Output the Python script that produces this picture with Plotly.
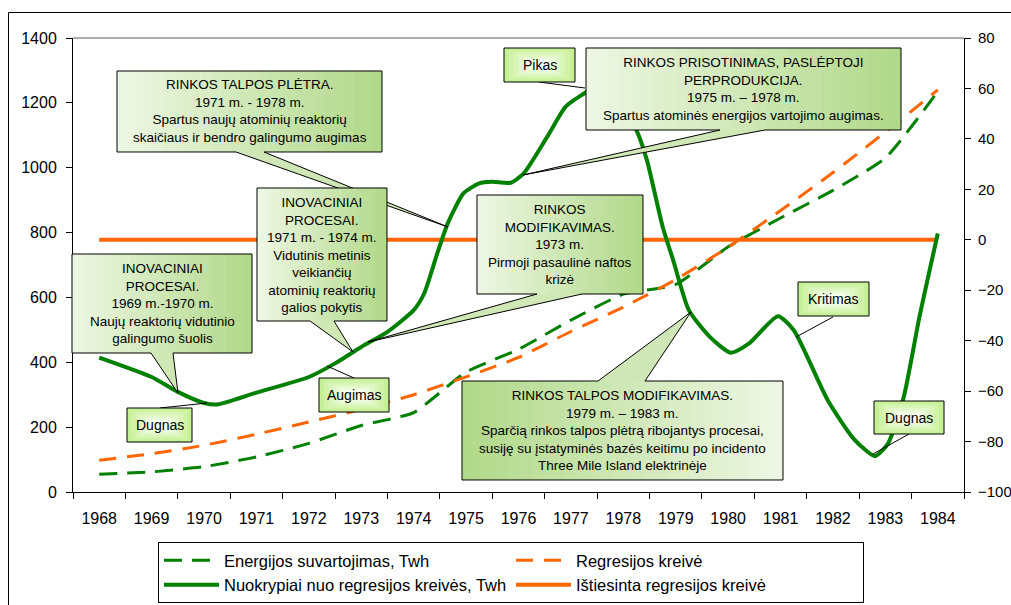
import plotly.graph_objects as go

years = list(range(1968, 1985))
year_labels = [str(y) for y in years]

# Energijos suvartojimas, Twh (kairė ašis)
energy_twh = [55, 62, 78, 108, 150, 205, 245, 370, 440, 530, 610, 640, 756, 845, 930, 1030, 1235]
# Regresijos kreivė (kairė ašis)
regression = [98, 118, 144, 178, 216, 255, 300, 355, 415, 495, 570, 655, 755, 868, 985, 1110, 1240]
# Ištiesinta regresijos kreivė (dešinė ašis)
straightened = [0, 0, 0, 0, 0, 0, 0, 0, 0, 0, 0, 0, 0, 0, 0, 0, 0]

# Nuokrypiai nuo regresijos kreivės (dešinė ašis)
deviation_x = [1968.0, 1969.0, 1969.5, 1970.0, 1970.25, 1971.0, 1972.0, 1972.5, 1973.0,
               1973.5, 1974.0, 1974.2, 1974.45, 1974.65, 1974.95, 1975.25, 1975.5,
               1975.85, 1976.1, 1976.55, 1976.9, 1977.25, 1977.55, 1977.9, 1978.25,
               1978.45, 1978.75, 1978.95, 1979.25, 1979.65, 1980.05, 1980.4, 1980.95,
               1981.25, 1981.9, 1982.4, 1982.8, 1983.05, 1983.35, 1983.65, 1984.0]
deviation = [-46.7, -54.4, -60.3, -64.7, -65.3, -60.6, -54.4, -49.0, -42.5,
             -36.5, -27.9, -21.3, -5.4, 6.5, 18.4, 22.4, 23.0,
             22.6, 26.3, 40.9, 52.8, 58.0, 62.0, 56.0, 43.5,
             31.6, 5.2, -8.0, -27.9, -38.5, -44.8, -41.1, -30.3,
             -35.8, -63.6, -79.0, -85.8, -80.8, -62.3, -30.6, 2.5]

GREEN = "#008000"
ORANGE = "#ff6600"
FONT = "Liberation Sans, Arial, sans-serif"

FW, FH = 1011, 605
# braižymo sritis pikseliais
L, R, T, B = 73, 964, 38, 492


def px(x):
    return (x - L) / (R - L)


def py(y):
    return (B - y) / (B - T)


def mix(c1, c2, t):
    return "rgb(%d,%d,%d)" % tuple(round(a + (b - a) * t) for a, b in zip(c1, c2))


shapes = []
annotations = []

LIGHT = (238, 247, 228)
DARK = (176, 216, 136)


def callout(box, base, tip, text, edge="bottom", reverse=False, strips=28):
    x0, y0, x1, y1 = box
    c_left, c_right = (DARK, LIGHT) if reverse else (LIGHT, DARK)
    ey = y1 if edge == "bottom" else y0
    tmid = ((base[0] + base[1]) / 2 - x0) / (x1 - x0)
    tri = "M %f,%f L %f,%f L %f,%f Z" % (px(base[0]), py(ey), px(tip[0]), py(tip[1]),
                                          px(base[1]), py(ey))
    shapes.append(dict(type="path", path=tri, xref="paper", yref="paper", layer="above",
                       fillcolor=mix(c_left, c_right, tmid), line=dict(width=0)))
    w = (x1 - x0) / strips
    for i in range(strips):
        sx0 = x0 + i * w
        sx1 = min(x1, sx0 + w + 0.8)
        shapes.append(dict(type="rect", xref="paper", yref="paper", layer="above",
                           x0=px(sx0), x1=px(sx1), y0=py(y0), y1=py(y1),
                           fillcolor=mix(c_left, c_right, (i + 0.5) / strips),
                           line=dict(width=0)))
    if edge == "bottom":
        pts = [(x0, y0), (x1, y0), (x1, y1), (base[1], y1), tip, (base[0], y1), (x0, y1)]
    else:
        pts = [(x0, y0), (base[0], y0), tip, (base[1], y0), (x1, y0), (x1, y1), (x0, y1)]
    path = "M " + " L ".join("%f,%f" % (px(a), py(b)) for a, b in pts) + " Z"
    shapes.append(dict(type="path", path=path, xref="paper", yref="paper", layer="above",
                       line=dict(color="black", width=1)))
    annotations.append(dict(x=px((x0 + x1) / 2), y=py((y0 + y1) / 2), xref="paper",
                            yref="paper", text="<br>".join(text), showarrow=False,
                            font=dict(family=FONT, size=13.5, color="black"),
                            align="center", xanchor="center", yanchor="middle"))


EDGE = (198, 240, 150)
CENTER = (246, 254, 236)


def label(box, line_from, line_to, text):
    shapes.append(dict(type="line", xref="paper", yref="paper", layer="above",
                       x0=px(line_from[0]), y0=py(line_from[1]),
                       x1=px(line_to[0]), y1=py(line_to[1]),
                       line=dict(color="black", width=1)))
    x0, y0, x1, y1 = box
    steps = 6
    for k in range(steps):
        dx = (x1 - x0) * 0.42 * k / steps
        dy = (y1 - y0) * 0.42 * k / steps
        shapes.append(dict(type="rect", xref="paper", yref="paper", layer="above",
                           x0=px(x0 + dx), x1=px(x1 - dx), y0=py(y0 + dy), y1=py(y1 - dy),
                           fillcolor=mix(EDGE, CENTER, k / (steps - 1)),
                           line=dict(width=0)))
    shapes.append(dict(type="rect", xref="paper", yref="paper", layer="above",
                       x0=px(x0), x1=px(x1), y0=py(y0), y1=py(y1),
                       line=dict(color="black", width=1)))
    annotations.append(dict(x=px((x0 + x1) / 2), y=py((y0 + y1) / 2), xref="paper",
                            yref="paper", text=text, showarrow=False,
                            font=dict(family=FONT, size=14, color="black"),
                            xanchor="center", yanchor="middle"))


fig = go.Figure()

fig.add_trace(go.Scatter(
    x=years, y=energy_twh, mode="lines", name="Energijos suvartojimas, Twh",
    line=dict(color=GREEN, width=3, dash="18px,10px", shape="spline", smoothing=0.5),
    legendrank=1,
))
fig.add_trace(go.Scatter(
    x=years, y=regression, mode="lines", name="Regresijos kreivė",
    line=dict(color=ORANGE, width=3, dash="17px,11px", shape="spline", smoothing=0.5),
    legendrank=2,
))
fig.add_trace(go.Scatter(
    x=years, y=straightened, mode="lines", name="Ištiesinta regresijos kreivė",
    line=dict(color=ORANGE, width=4), yaxis="y2", legendrank=4,
))
fig.add_trace(go.Scatter(
    x=deviation_x, y=deviation, mode="lines", name="Nuokrypiai nuo regresijos kreivės, Twh",
    line=dict(color=GREEN, width=4, shape="spline", smoothing=0.6), yaxis="y2",
    legendrank=3,
))

# rėmelis ir viršutinė linija
shapes.append(dict(type="rect", xref="paper", yref="paper", layer="below",
                   x0=px(8.5), x1=px(1030), y0=py(12.5), y1=py(630),
                   line=dict(color="black", width=1)))
shapes.append(dict(type="line", xref="paper", yref="paper", layer="below",
                   x0=0, x1=1, y0=1, y1=1, line=dict(color="#909090", width=1.5)))

label((504, 48, 575, 82), (539, 82), (585, 88), "Pikas")
label((127, 408, 192, 442), (160, 408), (207, 403), "Dugnas")
label((319, 378, 389, 412), (354, 378), (327, 366), "Augimas")
label((798, 282, 869, 316), (833, 317), (796, 337), "Kritimas")
label((874, 401, 944, 434), (909, 434), (873, 454), "Dugnas")

callout((117, 71, 382, 152), (236, 264), (448, 227),
        ["RINKOS TALPOS PLĖTRA.", "1971 m. - 1978 m.", "Spartus naujų atominių reaktorių",
         "skaičiaus ir bendro galingumo augimas"])
callout((257, 188, 387, 321), (310, 334), (353, 352),
        ["INOVACINIAI", "PROCESAI.", "1971 m. - 1974 m.", "Vidutinis metinis", "veikiančių",
         "atominių reaktorių", "galios pokytis"])
callout((477, 195, 643, 294), (537, 582), (368, 342),
        ["RINKOS", "MODIFIKAVIMAS.", "1973 m.", "Pirmoji pasaulinė naftos", "krizė"])
callout((586, 48, 901, 130), (720, 765), (523, 175),
        ["RINKOS PRISOTINIMAS, PASLĖPTOJI", "PERPRODUKCIJA.", "1975 m. – 1978 m.",
         "Spartus atominės energijos vartojimo augimas."])
callout((462, 381, 783, 480), (598, 645), (691, 312),
        ["RINKOS TALPOS MODIFIKAVIMAS.", "1979 m. – 1983 m.",
         "Sparčią rinkos talpos plėtrą ribojantys procesai,",
         "susiję su įstatyminės bazės keitimu po incidento",
         "Three Mile Island elektrinėje"], edge="top", reverse=True)
callout((72, 254, 252, 353), (151, 173), (178, 393),
        ["INOVACINIAI", "PROCESAI.", "1969 m.-1970 m.", "Naujų reaktorių vidutinio",
         "galingumo šuolis"])

fig.update_layout(
    width=FW,
    height=FH,
    margin=dict(l=L, r=FW - R, t=T, b=FH - B, pad=0),
    paper_bgcolor="white",
    plot_bgcolor="white",
    font=dict(family=FONT, size=16, color="black"),
    showlegend=True,
    legend=dict(
        orientation="h", x=px(158), xref="paper", xanchor="left",
        y=(FH - 603) / FH, yref="container", yanchor="bottom",
        bordercolor="black", borderwidth=1, bgcolor="white",
        font=dict(family=FONT, size=16.5, color="black"),
        entrywidth=282, itemwidth=55, tracegroupgap=0,
    ),
    xaxis=dict(
        range=[1967.5, 1984.5], tickmode="array", tickvals=years, ticktext=year_labels,
        ticks="", showgrid=False, zeroline=False, showline=True, linecolor="black",
        linewidth=1, ticklabelstandoff=12, automargin=False,
        minor=dict(tick0=1967.5, dtick=1, ticks="outside", ticklen=6, tickcolor="black",
                   showgrid=False),
    ),
    yaxis=dict(
        range=[0, 1400], dtick=200, ticks="outside", ticklen=6, tickcolor="black",
        showgrid=False, zeroline=False, showline=True, linecolor="black", linewidth=1,
        ticklabelstandoff=6, automargin=False,
    ),
    yaxis2=dict(
        range=[-100, 80], dtick=20, overlaying="y", side="right", ticks="outside",
        ticklen=6, tickcolor="black", showgrid=False, zeroline=False, showline=True,
        linecolor="black", linewidth=1, ticklabelstandoff=4, automargin=False,
        tickfont=dict(family=FONT, size=15, color="black"),
    ),
    shapes=shapes,
    annotations=annotations,
)

# puslapio paraštės nuėmimas, kad figūra užpildytų langą
fig.write_html("out.html", config={"displayModeBar": False},
               post_script="document.body.style.margin='0px';")
